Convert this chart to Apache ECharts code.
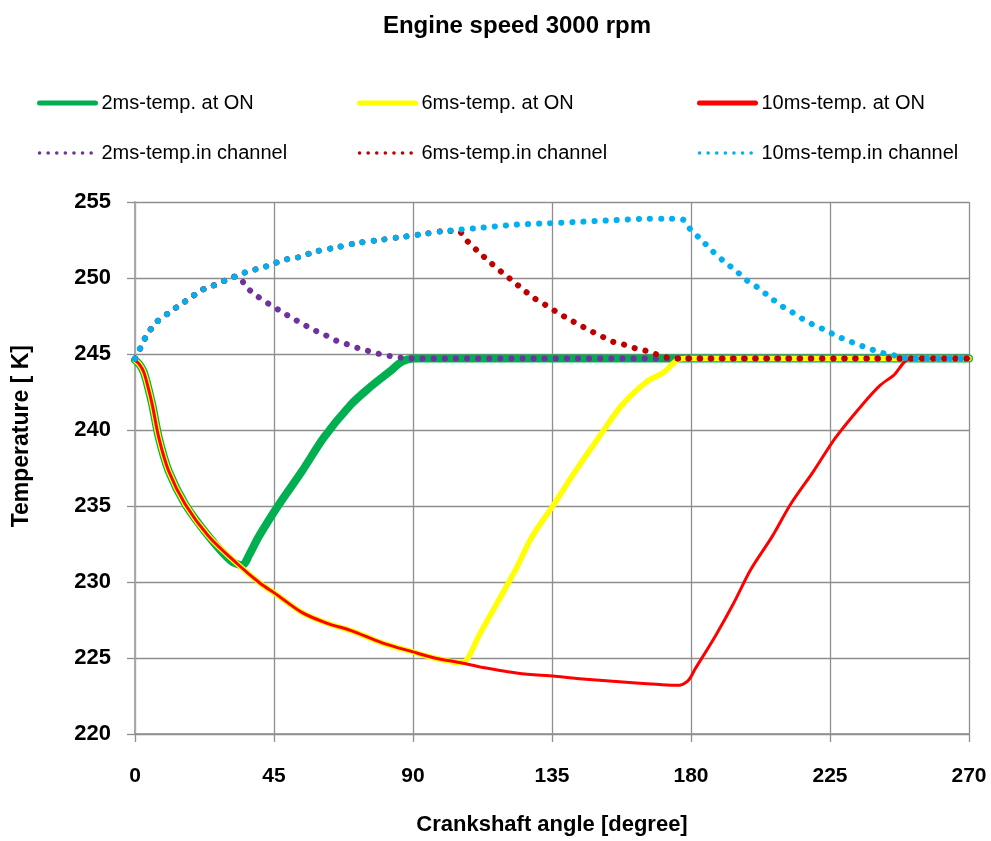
<!DOCTYPE html>
<html>
<head>
<meta charset="utf-8">
<script src="https://cdn.jsdelivr.net/npm/echarts@6/dist/echarts.min.js"></script>
<style>html,body{margin:0;padding:0;background:#fff;overflow:hidden;width:991px;height:841px}#chart{width:991px;height:841px;display:block}</style>
</head>
<body>
<div id="chart"></div>
<script>
const chartTitle = 'Engine speed 3000 rpm';
const xAxisTitle = 'Crankshaft angle [degree]';
const yAxisTitle = 'Temperature [ K]';
const seriesNames = ['2ms-temp. at ON','6ms-temp. at ON','10ms-temp. at ON','2ms-temp.in channel','6ms-temp.in channel','10ms-temp.in channel'];

// 2ms temperature at ON
const x2msOn = [0,1.5,2.85,4,5.6,7.7,10.9,16.3,23.9,31,34.7,37,40.1,46.6,54.1,61.1,69.8,75.7,82.2,86.5,90.3,270];
const y2msOn = [244.6,244.3,243.8,243.0,241.65,239.5,237.3,235.1,233.0,231.4,231.1,231.8,233.0,235.1,237.3,239.5,241.65,242.75,243.8,244.5,244.7,244.7];

// 6ms temperature at ON
const x6msOn = [0,1.5,2.85,4,5.6,7.7,10.9,16.3,23.9,33.1,40.6,45,54,62,70,80,90,97,105.4,107.5,111.3,117.2,123.2,128.6,135.6,142.6,150.1,157.7,165.8,171.2,175.5,178,270];
const y6msOn = [244.6,244.3,243.8,243.0,241.65,239.5,237.3,235.1,233.0,231.2,229.9,229.3,228.0,227.3,226.8,226.0,225.4,225.0,224.7,224.9,226.45,228.6,230.8,233.0,235.1,237.3,239.5,241.65,243.2,243.8,244.6,244.7,244.7];

// 10ms temperature at ON
const x10msOn = [0,1.5,2.85,4,5.6,7.7,10.9,16.3,23.9,33.1,40.6,45,54,62,70,80,90,97,105,112,124,136,146,159,170,175.5,179,181.4,187.9,193.8,199.3,206.3,212.2,219.7,226.8,235.4,241.3,245.6,251.1,270];
const y10msOn = [244.6,244.3,243.8,243.0,241.65,239.5,237.3,235.1,233.0,231.2,229.9,229.3,228.0,227.3,226.8,226.0,225.4,225.0,224.7,224.4,224.0,223.8,223.6,223.4,223.25,223.2,223.5,224.3,226.45,228.6,230.8,233.0,235.1,237.3,239.5,241.65,242.95,243.6,244.7,244.7];

// 2ms temperature in channel
const x2msCh = [0,1,2,3.7,7,10.9,14.3,18,21.5,25.3,28.8,32.5,34,36.1,39.6,43.3,46.9,50.6,54.1,57.7,61.1,64.9,68.5,72.1,75.5,79.2,82.9,86.5,90,270];
const y2msCh = [244.7,245.1,245.5,246.2,247.1,247.7,248.2,248.7,249.2,249.5,249.8,250.1,250.0,249.4,248.8,248.3,247.85,247.4,247.0,246.6,246.3,245.9,245.65,245.4,245.2,245.0,244.85,244.75,244.7,244.7];

// 6ms temperature in channel
const x6msCh = [0,1,2,3.7,7,10.9,14.3,18,21.5,25.3,28.8,32.5,36.1,39.6,43.1,46.9,50.6,53.9,57.6,64.9,71.9,79.2,86.5,93.7,100.8,104.5,107.7,111.3,114.9,118.6,122.3,125.9,129.4,133.1,137,140.4,144,147.7,151.2,154.8,158.6,162.3,165.6,169.2,172.8,176,270];
const y6msCh = [244.7,245.1,245.5,246.2,247.1,247.7,248.2,248.7,249.2,249.5,249.8,250.1,250.4,250.6,250.8,251.1,251.3,251.4,251.7,252.0,252.3,252.5,252.7,252.9,253.1,253.1,252.4,251.7,251.05,250.4,249.8,249.2,248.65,248.2,247.7,247.3,246.9,246.5,246.15,245.8,245.6,245.35,245.2,244.95,244.75,244.7,244.7];

// 10ms temperature in channel
const x10msCh = [0,1,2,3.7,7,10.9,14.3,18,21.5,25.3,28.8,32.5,36.1,39.6,43.1,46.9,50.6,53.9,57.6,64.9,71.9,79.2,86.5,93.7,100.8,111.6,122.6,133.4,144.2,155,165.8,172.8,177.3,179.8,183.4,186.8,190.6,194.4,198,201.4,205.2,209,212.4,216.2,219.8,223.2,227,230.6,234.3,237.8,241.3,245.1,248.9,252,270];
const y10msCh = [244.7,245.1,245.5,246.2,247.1,247.7,248.2,248.7,249.2,249.5,249.8,250.1,250.4,250.6,250.8,251.1,251.3,251.4,251.7,252.0,252.3,252.5,252.7,252.9,253.1,253.3,253.5,253.6,253.7,253.8,253.9,253.9,253.85,253.2,252.5,251.8,251.1,250.5,249.85,249.4,248.8,248.2,247.8,247.3,246.9,246.6,246.2,245.9,245.6,245.35,245.1,244.95,244.75,244.7,244.7];

const xTicks = {min: 0, max: 270, interval: 45};
const yTicks = {min: 220, max: 255, interval: 5};

function zip(xs, ys) { return xs.map((x, i) => [x, ys[i]]); }

const FONT = 'Liberation Sans';
const seriesDefs = [
  {name: seriesNames[0], data: zip(x2msOn, y2msOn), color: '#00B050', width: 8, dotted: false},
  {name: seriesNames[1], data: zip(x6msOn, y6msOn), color: '#FFFF00', width: 5.5, dotted: false},
  {name: seriesNames[2], data: zip(x10msOn, y10msOn), color: '#FF0000', width: 3, dotted: false},
  {name: seriesNames[3], data: zip(x2msCh, y2msCh), color: '#7030A0', width: 6, dotted: true},
  {name: seriesNames[4], data: zip(x6msCh, y6msCh), color: '#C00000', width: 6, dotted: true},
  {name: seriesNames[5], data: zip(x10msCh, y10msCh), color: '#00B0F0', width: 6, dotted: true}
];

const series = seriesDefs.map(s => ({
  name: s.name,
  type: 'line',
  data: s.data,
  symbol: 'none',
  showSymbol: false,
  smooth: 0.3,
  color: s.color,
  lineStyle: s.dotted
    ? {color: s.color, width: s.width, type: [0.1, 11], cap: 'round'}
    : {color: s.color, width: s.width, cap: 'round', join: 'round'},
  emphasis: {disabled: true},
  animation: false
}));

function legendItem(i) {
  const s = seriesDefs[i];
  return {
    name: s.name,
    lineStyle: s.dotted
      ? {width: 3.5, type: [0.1, 8.5], cap: 'round', color: s.color}
      : {width: 5, type: 'solid', color: s.color}
  };
}
function makeLegend(left, idxs) {
  return {
    orient: 'vertical', left: left, top: 88,
    itemWidth: 56, itemHeight: 14, itemGap: 30,
    itemStyle: {opacity: 0},
    textStyle: {fontFamily: FONT, fontSize: 20, color: '#000', padding: [0, 0, 0, 1]},
    selectedMode: false,
    data: idxs.map(legendItem)
  };
}

const chart = echarts.init(document.getElementById('chart'), null, {renderer: 'canvas', width: 991, height: 841});
chart.setOption({
  backgroundColor: '#fff',
  animation: false,
  title: {
    text: chartTitle, left: 512, top: 9, textAlign: 'center',
    textStyle: {fontFamily: FONT, fontSize: 24, fontWeight: 'bold', color: '#000'}
  },
  legend: [makeLegend(32, [0, 3]), makeLegend(352, [1, 4]), makeLegend(692, [2, 5])],
  grid: {left: 135, width: 834, top: 202, height: 537, containLabel: false},
  xAxis: {
    type: 'value', min: xTicks.min, max: xTicks.max, interval: xTicks.interval,
    name: xAxisTitle, nameLocation: 'middle', nameGap: 80,
    nameTextStyle: {fontFamily: FONT, fontSize: 22, fontWeight: 'bold', color: '#000'},
    axisLine: {show: true, lineStyle: {color: '#8e8e8e', width: 1.5}},
    axisTick: {show: true, length: 8, inside: false, lineStyle: {color: '#8e8e8e', width: 1.3}},
    axisLabel: {margin: 32, fontFamily: FONT, fontSize: 21, fontWeight: 'bold', color: '#000'},
    splitLine: {show: true, lineStyle: {color: '#8e8e8e', width: 1.3}}
  },
  yAxis: {
    type: 'value', min: yTicks.min, max: yTicks.max, interval: yTicks.interval,
    axisLine: {show: true, lineStyle: {color: '#a8a8a8', width: 2}},
    axisTick: {show: true, length: 8, inside: false, lineStyle: {color: '#8e8e8e', width: 1.3}},
    axisLabel: {margin: 24, fontFamily: FONT, fontSize: 22, fontWeight: 'bold', color: '#000'},
    splitLine: {show: true, lineStyle: {color: '#8e8e8e', width: 1.3}}
  },
  graphic: [{
    type: 'text', left: 10, top: 345, rotation: Math.PI / 2,
    style: {text: yAxisTitle, fontFamily: FONT, fontSize: 23, fontWeight: 'bold', fill: '#000'}
  }],
  series: series
});
</script>
</body>
</html>
